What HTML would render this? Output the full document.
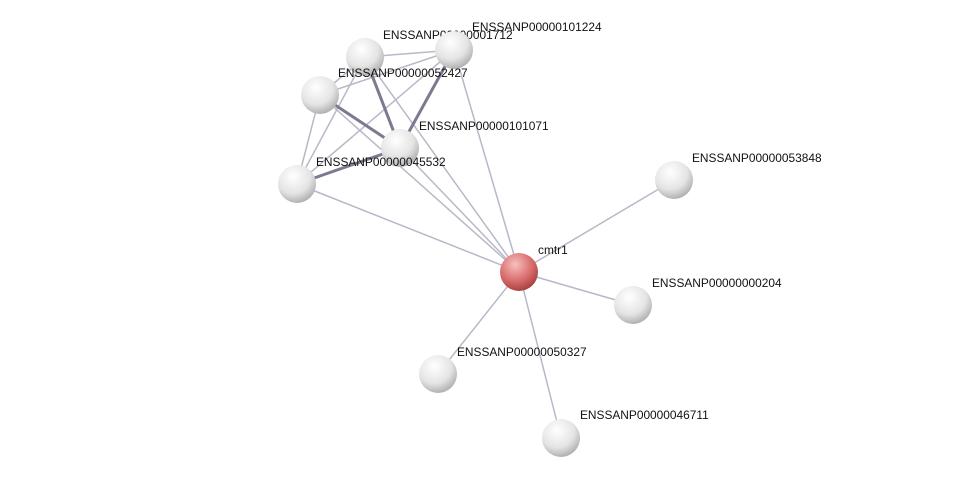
<!DOCTYPE html>
<html><head><meta charset="utf-8"><style>
html,body{margin:0;padding:0;background:#fff;}
svg text{font-family:"Liberation Sans",sans-serif;font-size:11.9px;fill:#111;}
</style></head><body>
<svg width="976" height="483" viewBox="0 0 976 483" xmlns="http://www.w3.org/2000/svg">
<defs>
<radialGradient id="g" cx="0.4" cy="0.3" r="0.75">
<stop offset="0" stop-color="#ffffff"/><stop offset="0.6" stop-color="#e4e4e4"/><stop offset="1" stop-color="#a8a8a8"/>
</radialGradient>
<radialGradient id="r" cx="0.4" cy="0.3" r="0.75">
<stop offset="0" stop-color="#f6c0c0"/><stop offset="0.6" stop-color="#d86a6a"/><stop offset="1" stop-color="#a03a3a"/>
</radialGradient>
</defs>
<g stroke="#b8b8c8" stroke-width="1.5" fill="none">
<line x1="519" y1="272" x2="674" y2="180"/>
<line x1="519" y1="272" x2="633" y2="305"/>
<line x1="519" y1="272" x2="438" y2="374"/>
<line x1="519" y1="272" x2="561" y2="438"/>
<line x1="519" y1="272" x2="297" y2="184"/>
<line x1="519" y1="272" x2="320" y2="95"/>
<line x1="519" y1="272" x2="400" y2="148"/>
<line x1="519" y1="272" x2="365" y2="57"/>
<line x1="519" y1="272" x2="454" y2="50"/>
<line x1="320" y1="95" x2="297" y2="184"/>
<line x1="365" y1="57" x2="297" y2="184"/>
<line x1="454" y1="50" x2="297" y2="184"/>
<line x1="365" y1="57" x2="454" y2="50"/>
<line x1="320" y1="95" x2="454" y2="50"/>
<line x1="365" y1="57" x2="320" y2="95"/>
</g>
<g stroke="#7a7a90" stroke-width="3" fill="none">
<line x1="365" y1="57" x2="400" y2="148"/>
<line x1="454" y1="50" x2="400" y2="148"/>
<line x1="320" y1="95" x2="400" y2="148"/>
<line x1="297" y1="184" x2="400" y2="148"/>
</g>
<text x="383" y="39">ENSSANP00000001712</text>
<g>
<circle cx="674" cy="180" r="19" fill="url(#g)"/>
<circle cx="633" cy="305" r="19" fill="url(#g)"/>
<circle cx="438" cy="374" r="19" fill="url(#g)"/>
<circle cx="561" cy="438" r="19" fill="url(#g)"/>
<circle cx="297" cy="184" r="19" fill="url(#g)"/>
<circle cx="320" cy="95" r="19" fill="url(#g)"/>
<circle cx="400" cy="148" r="19" fill="url(#g)"/>
<circle cx="365" cy="57" r="19" fill="url(#g)"/>
<circle cx="454" cy="50" r="19" fill="url(#g)"/>
<circle cx="519" cy="272" r="19" fill="url(#r)"/>
</g>
<text x="692" y="162">ENSSANP00000053848</text>
<text x="538" y="254">cmtr1</text>
<text x="652" y="287">ENSSANP00000000204</text>
<text x="457" y="356">ENSSANP00000050327</text>
<text x="580" y="419">ENSSANP00000046711</text>
<text x="316" y="166">ENSSANP00000045532</text>
<text x="419" y="130">ENSSANP00000101071</text>
<text x="338" y="77">ENSSANP00000052427</text>
<text x="472" y="31">ENSSANP00000101224</text>
</svg>
</body></html>
